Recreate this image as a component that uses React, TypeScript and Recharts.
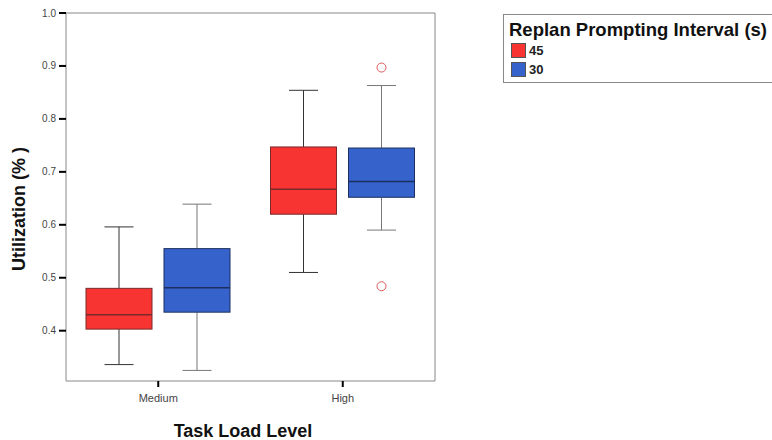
import { Bar, ComposedChart, Label, ReferenceArea, XAxis, YAxis } from "recharts"

// task load levels on the x axis
const levels = ["Medium", "High"]

// box stats per level, replan prompting interval 45 s
const stats45 = [
  { min: 0.336, q1: 0.403, median: 0.43, q3: 0.48, max: 0.596, outliers: [] as number[] },
  { min: 0.51, q1: 0.62, median: 0.667, q3: 0.747, max: 0.854, outliers: [] as number[] },
]

// box stats per level, replan prompting interval 30 s
const stats30 = [
  { min: 0.325, q1: 0.435, median: 0.481, q3: 0.555, max: 0.639, outliers: [] as number[] },
  { min: 0.59, q1: 0.652, median: 0.682, q3: 0.745, max: 0.863, outliers: [0.897, 0.484] },
]

const yTicks = [0.4, 0.5, 0.6, 0.7, 0.8, 0.9, 1.0]
const yDomain = [0.305, 1.0]

const data = levels.map((level, i) => ({ level, s45: stats45[i], s30: stats30[i] }))

const FONT = "Arial, 'Liberation Sans', sans-serif"

function makeBox(key: "s45" | "s30", fill: string, edge: string, whisker: string) {
  return (props: any) => {
    const { x, y, width, height, payload } = props
    const s = payload[key]
    const top = Math.min(y, y + height)
    const bottom = Math.max(y, y + height)
    const k = (bottom - top) / (s.max - s.min)
    const py = (v: number) => bottom - (v - s.min) * k
    const cx = x + width / 2
    const cap = 14.5
    return (
      <g>
        <line x1={cx} x2={cx} y1={py(s.max)} y2={py(s.q3)} stroke={whisker} />
        <line x1={cx} x2={cx} y1={py(s.q1)} y2={py(s.min)} stroke={whisker} />
        <line x1={cx - cap} x2={cx + cap} y1={py(s.max)} y2={py(s.max)} stroke={whisker} />
        <line x1={cx - cap} x2={cx + cap} y1={py(s.min)} y2={py(s.min)} stroke={whisker} />
        <rect x={x} y={py(s.q3)} width={width} height={py(s.q1) - py(s.q3)} fill={fill} stroke={edge} />
        <line x1={x} x2={x + width} y1={py(s.median)} y2={py(s.median)} stroke={edge} strokeWidth={1.5} />
        {s.outliers.map((o: number, j: number) => (
          <circle key={j} cx={cx} cy={py(o)} r={4.5} fill="none" stroke="#dd5a5a" />
        ))}
      </g>
    )
  }
}

const legendItems = [
  { label: "45", color: "#f73432" },
  { label: "30", color: "#3563cb" },
]

export default function App() {
  return (
    <div style={{ position: "absolute", left: 0, top: 0, width: 772, height: 440, background: "#fff", fontFamily: FONT, overflow: "hidden" }}>
      <ComposedChart
        width={772}
        height={440}
        data={data}
        barGap={12}
        margin={{ top: 13, right: 337, left: 0, bottom: 29 }}
      >
        <ReferenceArea y1={yDomain[0]} y2={yDomain[1]} fill="none" stroke="#888" ifOverflow="visible" />
        <XAxis
          dataKey="level"
          height={30}
          axisLine={false}
          tickLine={{ stroke: "#000", strokeWidth: 2 }}
          tickSize={6}
          tickMargin={7}
          tick={{ fontSize: 11, fill: "#444", fontFamily: FONT }}
        >
          <Label
            content={() => (
              <text x={243} y={437} textAnchor="middle" fontSize={18} fontWeight="bold" fill="#111" fontFamily={FONT}>
                Task Load Level
              </text>
            )}
          />
        </XAxis>
        <YAxis
          type="number"
          domain={yDomain}
          ticks={yTicks}
          width={66}
          axisLine={false}
          tickLine={{ stroke: "#000", strokeWidth: 2 }}
          tickSize={7}
          tickMargin={3}
          tickFormatter={(v: number) => v.toFixed(1)}
          tick={{ fontSize: 10, fill: "#444", fontFamily: FONT }}
        >
          <Label
            content={() => (
              <text
                x={19}
                y={209}
                textAnchor="middle"
                dominantBaseline="central"
                transform="rotate(-90, 19, 209)"
                fontSize={18}
                fontWeight="bold"
                fill="#111"
                fontFamily={FONT}
              >
                Utilization (% )
              </text>
            )}
          />
        </YAxis>
        <Bar
          dataKey={(d: any) => [d.s45.min, d.s45.max]}
          name="45"
          barSize={66}
          shape={makeBox("s45", "#f73432", "#7a2a2a", "#333")}
          isAnimationActive={false}
        />
        <Bar
          dataKey={(d: any) => [d.s30.min, d.s30.max]}
          name="30"
          barSize={66}
          shape={makeBox("s30", "#3563cb", "#1c2f5e", "#777")}
          isAnimationActive={false}
        />
      </ComposedChart>
      <div
        style={{
          position: "absolute",
          left: 503,
          top: 14,
          width: 300,
          height: 69,
          border: "1px solid #888",
          boxSizing: "border-box",
          padding: "4px 0 0 5px",
        }}
      >
        <div style={{ fontSize: 18.5, fontWeight: "bold", color: "#111", lineHeight: "22px", whiteSpace: "nowrap" }}>
          Replan Prompting Interval (s)
        </div>
        {legendItems.map((it) => (
          <div key={it.label} style={{ display: "flex", alignItems: "center", height: 19, marginLeft: 2 }}>
            <span style={{ width: 13, height: 13, background: it.color, border: "1px solid #555", display: "inline-block" }} />
            <span style={{ fontSize: 13, fontWeight: "bold", color: "#222", marginLeft: 3 }}>{it.label}</span>
          </div>
        ))}
      </div>
    </div>
  )
}
